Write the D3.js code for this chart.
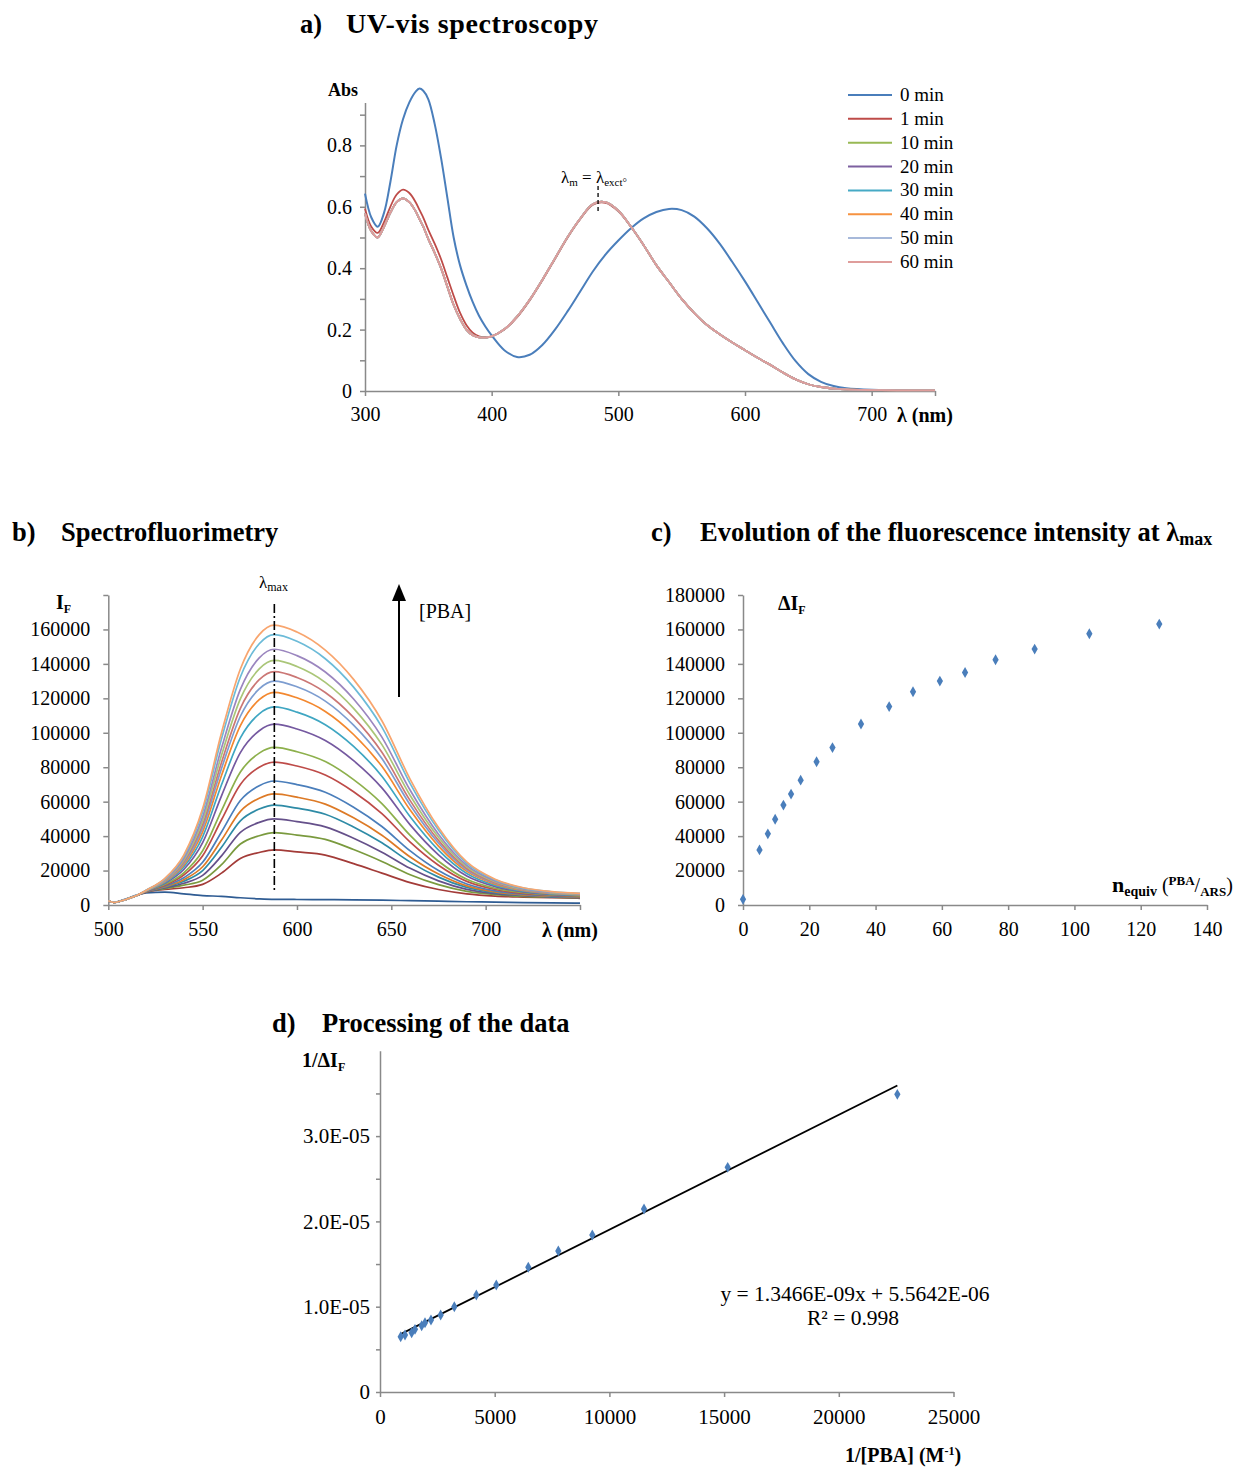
<!DOCTYPE html>
<html>
<head>
<meta charset="utf-8">
<script src="https://cdn.jsdelivr.net/npm/d3@7"></script>
<style>
  body { margin: 0; background: #fff; }
  svg { display: block; }
</style>
</head>
<body>
<script>
const SERIF = "'Liberation Serif', 'Times New Roman', serif";
const AXIS_GREY = "#898989";

// ---------- a) UV-vis data ----------
const uvWl = [300,305,310,315,320,325,330,335,340,343,346,350,355,360,365,370,375,380,385,390,395,400,410,420,430,440,450,460,470,480,490,500,510,520,530,540,550,560,570,580,590,600,610,620,630,640,650,660,670,680,700,720,750];
const uv0min = [0.643,0.565,0.535,0.58,0.68,0.80,0.885,0.94,0.975,0.985,0.978,0.95,0.87,0.76,0.63,0.50,0.41,0.345,0.29,0.245,0.21,0.181,0.133,0.111,0.118,0.15,0.20,0.26,0.325,0.39,0.445,0.49,0.53,0.562,0.583,0.593,0.589,0.568,0.53,0.48,0.42,0.357,0.29,0.222,0.155,0.097,0.055,0.03,0.016,0.009,0.004,0.003,0.002];
const uv1min = [0.594,0.535,0.515,0.55,0.60,0.64,0.656,0.645,0.615,0.59,0.565,0.525,0.48,0.43,0.37,0.31,0.255,0.215,0.19,0.178,0.175,0.178,0.20,0.24,0.295,0.36,0.43,0.50,0.56,0.607,0.613,0.585,0.535,0.475,0.41,0.355,0.30,0.254,0.215,0.185,0.158,0.133,0.108,0.085,0.06,0.038,0.022,0.013,0.008,0.005,0.003,0.002,0.002];
// 10 to 60 min spectra overlap within the line width
const uvLater = [0.578,0.52,0.50,0.535,0.58,0.615,0.627,0.615,0.585,0.56,0.535,0.495,0.45,0.40,0.34,0.28,0.235,0.20,0.182,0.175,0.174,0.178,0.201,0.242,0.297,0.362,0.432,0.502,0.562,0.609,0.615,0.587,0.535,0.475,0.41,0.355,0.30,0.254,0.215,0.185,0.158,0.133,0.108,0.085,0.06,0.038,0.022,0.013,0.008,0.005,0.003,0.002,0.002];
const uvNames = ["0 min","1 min","10 min","20 min","30 min","40 min","50 min","60 min"];
const uvValues = [uv0min, uv1min, uvLater, uvLater, uvLater, uvLater, uvLater, uvLater];
const uvColors = ["#4A7EBB","#BE4B48","#98B954","#7D60A0","#46AAC5","#F69240","#A7B9DA","#DF9D9B"];
const uvYTicks = [0,0.1,0.2,0.3,0.4,0.5,0.6,0.7,0.8,0.9];
const uvXTicks = [300,400,500,600,700,750];

// ---------- b) fluorescence spectra (values in thousands) ----------
const fluoWl = [500,503,510,515,520,530,540,550,560,570,580,588,600,615,630,645,660,675,690,705,720,735,750];
const fBlank = [2.5,1.5,3.8,5.8,7.0,7.5,6.5,5.5,5.0,4.2,3.6,3.3,3.2,3.1,3.0,2.8,2.5,2.2,1.9,1.7,1.4,1.2,1.1];
const f032 = [2.5,1.5,3.5,5.5,7.5,9.0,10.0,12.0,18.5,27.0,30.5,32.0,30.8,29.0,24.0,18.5,13.0,9.0,6.5,5.2,4.6,4.2,3.9];
const f042 = [2.5,1.5,3.5,5.5,7.6,9.5,11.5,14.4,23.4,35.4,40.2,42.0,40.6,38.1,32.2,25.3,17.6,11.8,7.9,6.0,5.0,4.5,4.1];
const f050 = [2.5,1.5,3.5,5.5,7.6,9.9,12.6,17.2,28.5,42.2,48.0,50.0,48.4,45.4,38.8,30.7,21.3,14.0,9.1,6.6,5.4,4.7,4.3];
const f058 = [2.5,1.5,3.5,5.5,7.7,10.3,13.8,20.0,33.5,48.9,55.7,58.0,56.2,52.7,45.3,36.1,24.9,16.2,10.2,7.2,5.7,4.9,4.5];
const f064 = [2.5,1.5,3.5,5.5,7.7,10.6,14.7,22.2,37.7,54.4,62.0,64.5,62.6,58.6,50.6,40.5,27.9,18.0,11.1,7.6,5.9,5.1,4.6];
const f072 = [2.5,1.5,3.5,5.5,7.8,11.0,15.8,24.8,42.4,60.7,69.3,72.0,69.9,65.5,56.8,45.6,31.4,20.0,12.2,8.2,6.3,5.3,4.8];
const f083 = [2.5,1.5,3.5,5.5,7.9,11.5,17.4,28.6,49.5,70.0,80.0,83.0,80.7,75.5,65.8,53.1,36.5,23.1,13.7,9.0,6.7,5.6,5.0];
const f091 = [2.5,1.5,3.5,5.5,8.0,12.0,18.7,31.5,54.8,77.2,88.2,91.5,89.0,83.3,72.8,58.9,40.4,25.4,14.9,9.7,7.1,5.8,5.2];
const f105 = [2.5,1.5,3.5,5.5,8.1,12.6,20.6,36.2,63.4,88.5,101.2,105.0,102.2,95.5,83.8,68.0,46.5,29.1,16.8,10.7,7.6,6.2,5.5];
const f115 = [2.5,1.5,3.5,5.5,8.1,13.1,22.1,39.6,69.8,97.0,111.0,115.0,112.0,104.7,92.1,74.8,51.2,31.9,18.3,11.4,8.0,6.5,5.7];
const f123 = [2.5,1.5,3.5,5.5,8.2,13.6,23.3,42.5,75.2,104.1,119.2,123.5,120.3,112.4,99.0,80.5,55.1,34.2,19.5,12.1,8.4,6.7,5.9];
const f130 = [2.5,1.5,3.5,5.5,8.3,13.9,24.3,44.8,79.3,109.6,125.5,130.0,126.7,118.4,104.4,85.0,58.1,36.0,20.4,12.6,8.7,6.9,6.1];
const f135 = [2.5,1.5,3.5,5.5,8.3,14.2,25.1,46.7,82.8,114.2,130.8,135.5,132.1,123.4,108.9,88.7,60.6,37.5,21.2,13.0,8.9,7.1,6.2];
const f142 = [2.5,1.5,3.5,5.5,8.3,14.5,26.0,48.9,87.0,119.7,137.1,142.0,138.5,129.3,114.2,93.1,63.6,39.3,22.1,13.5,9.2,7.2,6.3];
const f148 = [2.5,1.5,3.5,5.5,8.4,14.8,27.0,51.2,91.1,125.2,143.5,148.5,144.8,135.3,119.6,97.5,66.6,41.1,23.0,14.0,9.4,7.4,6.5];
const f157 = [2.5,1.5,3.5,5.5,8.5,15.2,28.2,54.1,96.5,132.4,151.7,157.0,153.1,143.0,126.5,103.3,70.5,43.5,24.2,14.6,9.8,7.7,6.7];
const f162 = [2.5,1.5,3.5,5.5,8.5,15.5,29.0,56.0,100.0,137.0,157.0,162.5,158.5,148.0,131.0,107.0,73.0,45.0,25.0,15.0,10.0,7.8,6.8];
const fluoSeries = [fBlank,f032,f042,f050,f058,f064,f072,f083,f091,f105,f115,f123,f130,f135,f142,f148,f157,f162];
const fluoColors = ["#2F5C93","#A33B38","#7A9A3E","#65508A","#2E8BA6","#DD7A26",
                    "#4A7EBB","#BE4B48","#8DB04C","#7559A0","#3FA6C2","#F3882F",
                    "#7D9DD0","#CB7775","#AAC678","#9B86BF","#6CBBD8","#F8A56E"];
const fluoYTicks = [0,20,40,60,80,100,120,140,160,180];
const fluoXTicks = [500,550,600,650,700,750];
const lambdaMax = 588;

// ---------- c) intensity vs equivalents ----------
const nEquiv = [0,4.98,7.5,9.7,12.2,14.5,17.4,22.2,27.0,35.6,44.1,51.3,59.4,67.0,76.2,88.0,104.5,125.6];
const deltaIF = [3300,32000,41300,49800,58000,64400,72500,83200,91400,105100,115200,123800,130000,135000,142400,148600,157500,163100];
const cYTicks = [0,20000,40000,60000,80000,100000,120000,140000,160000,180000];
const cXTicks = [0,20,40,60,80,100,120,140];

// ---------- d) double reciprocal ----------
const invPBA = [902,1090,1380,1526,1817,1962,2223,2645,3240,4200,5070,6465,7773,9255,11509,15157,22552];
const invDIF = [6.48e-6,6.68e-6,6.95e-6,7.35e-6,7.77e-6,8.12e-6,8.44e-6,9.03e-6,1.0e-5,1.137e-5,1.254e-5,1.462e-5,1.653e-5,1.84e-5,2.145e-5,2.634e-5,3.49e-5];
const fitSlope = 1.3466e-9, fitIntercept = 5.5642e-6;
const dYTicks = [0,0.5e-5,1e-5,1.5e-5,2e-5,2.5e-5,3e-5,3.5e-5];
const dXTicks = [0,5000,10000,15000,20000,25000];

const svg = d3.select("body").append("svg")
  .attr("width", 1240).attr("height", 1467)
  .attr("font-family", SERIF);

function styleAxis(g, fs) {
  g.select(".domain").attr("stroke", AXIS_GREY).attr("stroke-width", 1.5);
  g.selectAll(".tick line").attr("stroke", AXIS_GREY).attr("stroke-width", 1.5);
  g.selectAll(".tick text").attr("font-family", SERIF).attr("font-size", fs).attr("fill", "#000");
}

function title(x, y, letter, gap, fs) {
  svg.append("text").attr("x", x).attr("y", y)
    .attr("font-size", 26.5).attr("font-weight", "bold").text(letter);
  return svg.append("text").attr("x", x + gap).attr("y", y)
    .attr("font-size", fs || 26.5).attr("font-weight", "bold");
}

const plain = d3.format("d");

// ================= a) =================
const xa = d3.scaleLinear().domain([300, 750]).range([365, 935]);
const ya = d3.scaleLinear().domain([0, 0.94]).range([391, 102.4]);

title(300, 33, "a)", 46, 28).attr("textLength", 252).text("UV-vis spectroscopy");

svg.append("g").attr("transform", "translate(365,0)")
  .call(d3.axisLeft(ya).tickValues(uvYTicks).tickSize(5).tickSizeOuter(0).tickPadding(8)
    .tickFormat(d => (Math.round(d * 10) % 2 === 0) ? (d === 0 ? "0" : d3.format(".1f")(d)) : ""))
  .call(g => styleAxis(g, 20));
svg.append("g").attr("transform", "translate(0,391)")
  .call(d3.axisBottom(xa).tickValues(uvXTicks).tickSize(5).tickSizeOuter(0).tickPadding(11)
    .tickFormat(d => d === 750 ? "" : d))
  .call(g => styleAxis(g, 20));

const uvLine = d3.line().curve(d3.curveCatmullRom.alpha(0.5));
uvValues.forEach((vals, i) => {
  svg.append("path")
    .attr("d", uvLine(uvWl.map((w, j) => [xa(w), ya(vals[j])])))
    .attr("fill", "none").attr("stroke", uvColors[i])
    .attr("stroke-width", i === 0 ? 2 : 1.8);
});

svg.append("text").attr("x", 328).attr("y", 96).attr("font-size", 18).attr("font-weight", "bold").text("Abs");
svg.append("text").attr("x", 897).attr("y", 422).attr("font-size", 20).attr("font-weight", "bold").text("λ (nm)");

// lambda annotation
const ann = svg.append("text").attr("x", 561).attr("y", 183).attr("font-size", 17);
ann.append("tspan").text("λ");
ann.append("tspan").attr("font-size", 11).attr("dy", 3).text("m");
ann.append("tspan").attr("dy", -3).text(" = λ");
ann.append("tspan").attr("font-size", 11).attr("dy", 3).text("exct°");
svg.append("line").attr("x1", xa(484)).attr("x2", xa(484)).attr("y1", 186).attr("y2", 214)
  .attr("stroke", "#000").attr("stroke-width", 1.3).attr("stroke-dasharray", "4,3");

// legend
const leg = svg.append("g");
uvNames.forEach((n, i) => {
  const y = 95 + i * 23.85;
  leg.append("line").attr("x1", 848).attr("x2", 892).attr("y1", y).attr("y2", y)
    .attr("stroke", uvColors[i]).attr("stroke-width", 2);
  leg.append("text").attr("x", 900).attr("y", y + 6).attr("font-size", 19).text(n);
});

// ================= b) =================
const xb = d3.scaleLinear().domain([500, 750]).range([108.3, 580]);
const yb = d3.scaleLinear().domain([0, 180]).range([905, 595]);

title(12, 541, "b)", 49).text("Spectrofluorimetry");

svg.append("g").attr("transform", "translate(108.3,0)")
  .call(d3.axisLeft(yb).tickValues(fluoYTicks).tickSize(5).tickSizeOuter(0).tickPadding(13)
    .tickFormat(d => d === 180 ? "" : plain(d * 1000)))
  .call(g => styleAxis(g, 20));
svg.append("g").attr("transform", "translate(0,905)")
  .call(d3.axisBottom(xb).tickValues(fluoXTicks).tickSize(5).tickSizeOuter(0).tickPadding(12)
    .tickFormat(d => d === 750 ? "" : d))
  .call(g => styleAxis(g, 20));

const fluoLine = d3.line().curve(d3.curveMonotoneX);
fluoSeries.forEach((vals, i) => {
  svg.append("path")
    .attr("d", fluoLine(fluoWl.map((w, j) => [xb(w), yb(vals[j])])))
    .attr("fill", "none").attr("stroke", fluoColors[i]).attr("stroke-width", 1.7);
});

svg.append("line").attr("x1", xb(lambdaMax)).attr("x2", xb(lambdaMax)).attr("y1", 604).attr("y2", 893)
  .attr("stroke", "#000").attr("stroke-width", 1.6).attr("stroke-dasharray", "9,3,2,3");
const lm = svg.append("text").attr("x", 259).attr("y", 588).attr("font-size", 17);
lm.append("tspan").text("λ");
lm.append("tspan").attr("font-size", 12).attr("dy", 3).text("max");

const ifl = svg.append("text").attr("x", 56).attr("y", 609).attr("font-size", 20).attr("font-weight", "bold");
ifl.append("tspan").text("I");
ifl.append("tspan").attr("font-size", 12).attr("dy", 4).text("F");
svg.append("text").attr("x", 542).attr("y", 937).attr("font-size", 20).attr("font-weight", "bold").text("λ (nm)");

// arrow [PBA]
svg.append("line").attr("x1", 399).attr("x2", 399).attr("y1", 697).attr("y2", 598)
  .attr("stroke", "#000").attr("stroke-width", 2);
svg.append("path").attr("d", "M399,584 L392,601 L406,601 Z").attr("fill", "#000");
svg.append("text").attr("x", 419).attr("y", 618).attr("font-size", 20).text("[PBA]");

// ================= c) =================
const xc = d3.scaleLinear().domain([0, 140]).range([743, 1207]);
const yc = d3.scaleLinear().domain([0, 180000]).range([905, 595]);

const tc = title(651, 541, "c)", 49);
tc.append("tspan").text("Evolution of the fluorescence intensity at λ");
tc.append("tspan").attr("font-size", 18).attr("dy", 4).text("max");

svg.append("g").attr("transform", "translate(743,0)")
  .call(d3.axisLeft(yc).tickValues(cYTicks).tickSize(5).tickSizeOuter(0).tickPadding(13).tickFormat(plain))
  .call(g => styleAxis(g, 20));
svg.append("g").attr("transform", "translate(0,905)")
  .call(d3.axisBottom(xc).tickValues(cXTicks).tickSize(5).tickSizeOuter(0).tickPadding(12).tickFormat(plain))
  .call(g => styleAxis(g, 20));

const diamond = d3.symbol().type(d3.symbolDiamond).size(34);
svg.append("g").selectAll("path").data(nEquiv).join("path")
  .attr("d", diamond)
  .attr("transform", (d, i) => `translate(${xc(d)},${yc(deltaIF[i])})`)
  .attr("fill", "#4A7EBB");

const dif = svg.append("text").attr("x", 778).attr("y", 610).attr("font-size", 20).attr("font-weight", "bold");
dif.append("tspan").text("ΔI");
dif.append("tspan").attr("font-size", 12).attr("dy", 4).text("F");

const neq = svg.append("text").attr("x", 1112).attr("y", 892).attr("font-size", 22).attr("font-weight", "bold");
neq.append("tspan").text("n");
neq.append("tspan").attr("font-size", 14).attr("dy", 4).text("equiv");
neq.append("tspan").attr("font-size", 20).attr("font-weight", "normal").attr("dy", -4).text(" (");
neq.append("tspan").attr("font-size", 13).attr("dy", -7).text("PBA");
neq.append("tspan").attr("font-size", 20).attr("font-weight", "normal").attr("dy", 7).text("/");
neq.append("tspan").attr("font-size", 13).attr("dy", 4).text("ARS");
neq.append("tspan").attr("font-size", 20).attr("font-weight", "normal").attr("dy", -4).text(")");

// ================= d) =================
const xd = d3.scaleLinear().domain([0, 25000]).range([380, 953.5]);
const yd = d3.scaleLinear().domain([0, 4e-5]).range([1392, 1050.8]);

title(272, 1032, "d)", 50).text("Processing of the data");

svg.append("g").attr("transform", "translate(380,0)")
  .call(d3.axisLeft(yd).tickValues(dYTicks).tickSize(4).tickSizeOuter(0).tickPadding(6)
    .tickFormat(d => {
      const k = Math.round(d * 1e6);
      if (k === 0) return "0";
      if (k % 10 !== 0) return "";
      return (k / 10).toFixed(1) + "E-05";
    }))
  .call(g => styleAxis(g, 21));
svg.append("g").attr("transform", "translate(0,1392)")
  .call(d3.axisBottom(xd).tickValues(dXTicks).tickSize(5).tickSizeOuter(0).tickPadding(12).tickFormat(plain))
  .call(g => styleAxis(g, 21));

const xFit = d3.extent(invPBA);
svg.append("line")
  .attr("x1", xd(xFit[0])).attr("y1", yd(fitSlope * xFit[0] + fitIntercept))
  .attr("x2", xd(xFit[1])).attr("y2", yd(fitSlope * xFit[1] + fitIntercept))
  .attr("stroke", "#000").attr("stroke-width", 1.8);

svg.append("g").selectAll("path").data(invPBA).join("path")
  .attr("d", diamond)
  .attr("transform", (d, i) => `translate(${xd(d)},${yd(invDIF[i])})`)
  .attr("fill", "#4A7EBB");

svg.append("text").attr("x", 855).attr("y", 1301).attr("font-size", 21.5).attr("text-anchor", "middle")
  .text("y = 1.3466E-09x + 5.5642E-06");
svg.append("text").attr("x", 853).attr("y", 1325).attr("font-size", 21.5).attr("text-anchor", "middle")
  .text("R² = 0.998");

const idl = svg.append("text").attr("x", 302).attr("y", 1067).attr("font-size", 20).attr("font-weight", "bold");
idl.append("tspan").text("1/ΔI");
idl.append("tspan").attr("font-size", 12).attr("dy", 4).text("F");

const pba = svg.append("text").attr("x", 845).attr("y", 1462).attr("font-size", 20).attr("font-weight", "bold");
pba.append("tspan").text("1/[PBA] (M");
pba.append("tspan").attr("font-size", 12).attr("dy", -7).text("-1");
pba.append("tspan").attr("dy", 7).text(")");
</script>
</body>
</html>
